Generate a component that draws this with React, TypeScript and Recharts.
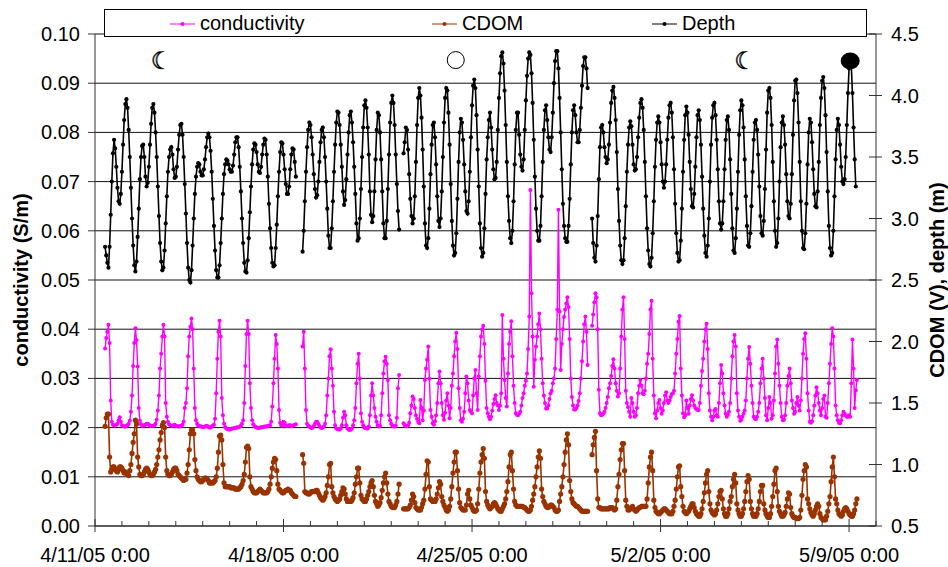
import { ComposedChart, Line, XAxis, YAxis, CartesianGrid, Legend, ReferenceDot } from 'recharts';

// hourly readings, hour 0 = 4/11/05 0:00. Logger had three short gaps, so four deployments.
const SEGMENT_STARTS = [9, 185, 275, 443];

const depth1 = [
  2.77,2.70,2.64,2.60,2.77,3.03,3.30,3.53,3.64,3.57,3.42,3.25,
  3.14,3.12,3.20,3.38,3.60,3.80,3.93,3.97,3.90,3.72,3.50,3.25,
  3.00,2.78,2.62,2.57,2.65,2.85,3.08,3.32,3.50,3.59,3.60,3.50,
  3.34,3.26,3.29,3.42,3.60,3.77,3.90,3.93,3.86,3.70,3.50,3.26,
  3.02,2.80,2.65,2.58,2.60,2.74,2.96,3.18,3.38,3.50,3.56,3.58,
  3.52,3.40,3.33,3.34,3.42,3.56,3.68,3.76,3.77,3.68,3.50,3.28,
  3.04,2.80,2.60,2.50,2.48,2.58,2.78,3.00,3.20,3.34,3.42,3.45,
  3.44,3.38,3.35,3.35,3.40,3.48,3.58,3.66,3.69,3.66,3.55,3.38,
  3.16,2.94,2.74,2.58,2.52,2.52,2.62,2.80,3.00,3.20,3.36,3.44,
  3.48,3.47,3.44,3.40,3.38,3.38,3.43,3.52,3.62,3.66,3.66,3.58,
  3.42,3.22,3.00,2.80,2.64,2.57,2.56,2.66,2.84,3.05,3.26,3.44,
  3.56,3.61,3.60,3.54,3.44,3.38,3.37,3.42,3.52,3.60,3.65,3.64,
  3.52,3.34,3.12,2.92,2.76,2.64,2.61,2.62,2.76,2.95,3.18,3.38,
  3.54,3.62,3.61,3.52,3.40,3.28,3.20,3.20,3.26,3.40,3.52,3.57,
  3.56,3.46,3.34,
];
const depth2 = [
  2.73,2.90,3.14,3.38,3.58,3.72,3.78,3.76,3.66,3.52,3.36,3.24,
  3.17,3.19,3.30,3.46,3.62,3.72,3.74,3.66,3.50,3.30,3.08,2.86,
  2.76,2.76,2.92,3.14,3.38,3.60,3.78,3.87,3.86,3.76,3.60,3.42,
  3.22,3.11,3.15,3.32,3.52,3.70,3.84,3.87,3.78,3.62,3.42,3.20,
  2.96,2.82,2.84,3.00,3.24,3.50,3.74,3.92,3.96,3.90,3.74,3.52,
  3.22,3.03,2.97,3.02,3.22,3.48,3.72,3.86,3.84,3.70,3.48,3.22,
  2.96,2.84,2.84,2.98,3.24,3.52,3.78,3.94,4.00,3.94,3.76,3.52,
  3.28,3.06,2.91,
];
const depth3 = [
  3.53,3.62,3.74,3.72,3.56,3.36,3.16,3.02,2.96,3.00,3.18,3.46,
  3.76,3.98,4.06,4.00,3.82,3.56,3.26,2.96,2.78,2.76,2.84,3.08,
  3.36,3.60,3.76,3.78,3.66,3.44,3.18,2.98,2.93,3.00,3.22,3.50,
  3.78,3.98,4.06,4.04,3.86,3.60,3.28,2.98,2.78,2.70,2.72,2.88,
  3.16,3.46,3.70,3.81,3.78,3.64,3.44,3.22,3.06,3.04,3.14,3.38,
  3.66,3.92,4.08,4.13,4.06,3.84,3.56,3.26,2.96,2.76,2.69,2.72,
  2.92,3.20,3.48,3.66,3.80,3.86,3.74,3.56,3.40,3.32,3.33,3.46,
  3.72,3.98,4.18,4.32,4.35,4.26,4.04,3.76,3.46,3.18,2.98,2.84,
  2.80,2.90,3.14,3.44,3.72,3.86,3.86,3.68,3.52,3.42,3.39,3.48,
  3.72,3.96,4.16,4.30,4.35,4.33,4.18,3.94,3.64,3.34,3.08,2.90,
  2.82,2.82,2.94,3.18,3.46,3.72,3.88,3.92,3.80,3.66,3.56,3.54,
  3.66,3.86,4.10,4.28,4.36,4.36,4.22,3.98,3.70,3.40,3.12,2.94,
  2.84,2.81,2.81,2.94,3.16,3.44,3.70,3.88,3.92,3.84,3.70,3.62,
  3.62,3.72,3.90,4.08,4.24,4.31,4.31,4.22,4.06,
];
const depth4 = [
  3.00,2.80,2.68,2.65,2.78,3.02,3.32,3.58,3.74,3.76,3.70,3.58,
  3.50,3.45,3.48,3.60,3.78,3.94,4.04,4.07,3.98,3.80,3.54,3.24,
  2.98,2.78,2.66,2.63,2.66,2.84,3.10,3.38,3.60,3.74,3.79,3.75,
  3.60,3.44,3.39,3.40,3.50,3.66,3.82,3.94,3.97,3.90,3.72,3.46,
  3.18,2.92,2.74,2.63,2.61,2.68,2.88,3.14,3.42,3.64,3.78,3.83,
  3.78,3.62,3.44,3.30,3.25,3.30,3.44,3.64,3.82,3.92,3.94,3.86,
  3.66,3.40,3.12,2.88,2.72,2.65,2.66,2.82,3.08,3.38,3.64,3.84,
  3.91,3.86,3.68,3.46,3.24,3.10,3.09,3.20,3.42,3.66,3.84,3.88,
  3.80,3.60,3.34,3.08,2.86,2.72,2.69,2.78,3.00,3.30,3.60,3.82,
  3.92,3.94,3.84,3.64,3.40,3.14,2.96,2.91,2.96,3.14,3.40,3.64,
  3.80,3.83,3.72,3.48,3.20,2.92,2.74,2.72,2.84,3.08,3.38,3.68,
  3.88,3.96,3.92,3.74,3.48,3.18,2.94,2.78,2.77,2.88,3.10,3.38,
  3.64,3.78,3.80,3.72,3.52,3.26,3.02,2.88,2.86,2.98,3.24,3.56,
  3.86,4.04,4.06,3.98,3.76,3.46,3.14,2.90,2.77,2.80,3.00,3.30,
  3.58,3.78,3.83,3.76,3.60,3.36,3.14,3.02,3.00,3.12,3.36,3.68,
  3.96,4.12,4.13,4.02,3.78,3.46,3.14,2.90,2.76,2.75,2.88,3.12,
  3.44,3.70,3.81,3.78,3.62,3.40,3.20,3.10,3.09,3.22,3.46,3.76,
  3.98,4.12,4.15,4.06,3.84,3.54,3.22,2.94,2.76,2.70,2.72,2.90,
  3.18,3.48,3.72,3.81,3.76,3.60,3.42,3.30,3.28,3.32,3.50,3.76,
  4.02,4.22,4.29,4.24,4.02,3.74,3.48,3.26,
];

// conductivity in units of 1e-4 S/m
const cond1 = [
  361,382,395,409,372,255,212,206,204,205,206,208,
  215,221,212,205,203,202,202,203,205,208,214,232,
  265,325,372,402,378,324,240,214,207,204,204,205,
  206,208,208,206,204,203,203,204,205,208,216,235,
  265,320,350,385,409,385,250,222,212,207,205,204,
  204,205,206,204,203,202,202,203,204,206,212,240,
  250,280,345,385,405,422,400,320,240,215,208,204,
  203,202,202,201,201,202,203,203,201,200,200,202,
  204,206,218,270,340,395,417,385,260,225,208,201,
  198,197,196,196,197,198,198,199,199,200,200,201,
  202,204,208,215,250,325,390,417,390,290,240,215,
  207,203,201,200,199,199,200,200,201,201,202,202,
  202,203,204,205,212,243,290,340,388,370,320,236,
  210,205,204,212,210,205,203,203,205,205,203,204,
  205,206,207,
];
const cond2 = [
  365,395,320,236,208,204,202,200,199,200,203,208,
  212,212,208,203,200,199,200,202,208,225,265,300,
  345,359,320,285,232,205,198,197,196,196,198,205,
  220,232,225,205,198,196,195,196,198,205,215,240,
  290,330,350,300,229,212,205,200,199,198,198,202,
  225,265,290,265,240,222,212,205,202,204,225,270,
  310,335,344,330,297,225,215,208,204,202,202,204,
  220,280,307,
];
const cond3 = [
  209,205,203,203,205,210,229,245,263,258,240,225,
  218,212,209,256,240,215,235,297,320,338,365,300,
  236,222,209,206,213,225,250,290,314,290,250,225,
  216,230,255,270,245,219,240,285,310,345,375,393,
  360,280,240,215,212,218,232,270,304,290,255,236,
  232,229,265,300,317,270,236,304,345,385,400,407,
  370,295,240,229,222,217,222,235,248,258,266,250,
  245,236,245,270,429,340,297,260,243,310,370,395,
  416,345,285,250,229,226,225,228,232,245,260,270,
  285,295,310,360,426,683,473,385,283,338,365,385,
  410,432,400,340,290,265,250,239,239,245,258,270,
  275,290,300,320,380,440,643,436,317,370,400,425,
  440,452,465,445,380,300,262,245,237,237,240,245,
  254,270,300,335,375,410,426,395,327,
];
const cond4 = [
  407,430,455,473,465,400,277,229,225,226,228,232,
  240,250,262,280,290,305,325,339,320,290,275,263,
  270,320,385,440,465,380,275,250,242,232,222,260,
  250,232,222,225,240,270,285,297,285,270,268,275,
  300,330,350,390,440,458,340,265,229,219,235,250,
  256,240,228,235,250,265,272,255,250,255,262,268,
  270,275,310,350,380,415,427,320,265,229,221,225,
  255,240,228,245,258,266,255,245,240,238,236,236,
  250,285,315,340,375,400,411,360,270,235,222,215,
  222,235,238,225,222,250,290,327,310,270,245,228,
  222,226,232,250,300,345,375,388,365,270,235,222,
  214,216,222,228,235,255,300,340,364,330,285,250,
  222,218,217,222,232,250,290,320,340,300,260,225,
  215,240,262,250,218,225,255,310,365,379,330,285,
  250,222,215,216,225,250,285,305,320,290,255,240,
  228,232,250,262,245,235,255,300,350,380,392,340,
  270,235,212,210,213,225,245,265,282,270,250,235,
  225,240,258,265,222,220,250,290,330,370,402,385,
  320,245,225,215,210,209,215,225,232,228,225,222,
  222,225,222,290,379,320,240,276,297,
];

const cdom1 = [
  1.31,1.38,1.41,1.41,1.06,.94,.96,.98,.98,.96,.95,.94,
  .96,.98,.98,.97,.95,.93,.94,.93,.92,.91,.95,1.00,
  1.09,1.18,1.25,1.36,1.33,1.06,.98,.92,.91,.91,.92,.94,
  .96,.97,.96,.94,.92,.91,.91,.92,.94,.96,1.00,1.06,
  1.12,1.20,1.26,1.32,1.34,1.30,1.06,.95,.92,.91,.91,.92,
  .94,.96,.97,.97,.95,.92,.91,.90,.89,.88,.87,.88,
  .88,.93,1.00,1.12,1.25,1.28,1.28,1.25,1.04,.95,.90,.88,
  .87,.86,.86,.87,.88,.89,.89,.88,.87,.85,.85,.85,
  .85,.86,.87,.90,.97,1.10,1.23,1.24,1.20,1.00,.85,.82,
  .82,.82,.82,.82,.81,.81,.81,.81,.80,.80,.80,.80,
  .81,.82,.84,.87,.92,1.02,1.14,1.15,1.13,.90,.82,.80,
  .78,.77,.77,.77,.78,.79,.80,.79,.78,.77,.77,.77,
  .77,.78,.80,.84,.90,.97,1.02,1.05,1.04,.95,.84,.80,
  .79,.78,.77,.77,.78,.79,.79,.80,.79,.79,.77,.76,
  .75,.74,.74,
];
const cdom2 = [
  1.08,1.01,.78,.77,.77,.76,.76,.77,.78,.78,.78,.78,
  .79,.79,.77,.75,.73,.72,.71,.72,.74,.77,.83,.90,
  1.00,1.01,.82,.77,.74,.72,.71,.70,.71,.72,.75,.78,
  .81,.80,.76,.72,.70,.70,.70,.70,.71,.73,.77,.84,
  .90,.97,.97,.85,.75,.72,.71,.70,.70,.72,.75,.78,
  .82,.85,.87,.82,.75,.70,.68,.66,.67,.69,.73,.79,
  .85,.90,.93,.85,.76,.70,.68,.66,.65,.65,.65,.67,
  .70,.76,.84,
];
const cdom3 = [
  .64,.64,.64,.64,.64,.65,.67,.71,.76,.74,.69,.65,
  .64,.63,.63,.63,.65,.68,.71,.80,.92,1.03,1.02,.82,
  .72,.71,.70,.70,.70,.72,.76,.81,.86,.84,.74,.70,
  .67,.65,.63,.62,.63,.66,.72,.82,.93,1.02,1.10,1.10,
  .95,.80,.69,.65,.64,.63,.63,.63,.67,.76,.79,.72,
  .67,.65,.63,.62,.62,.63,.68,.80,.93,1.02,1.08,1.13,
  1.05,.78,.70,.67,.65,.64,.65,.66,.68,.69,.68,.66,
  .64,.63,.62,.62,.64,.66,.68,.72,.78,.86,.98,1.08,
  1.10,.95,.80,.70,.67,.66,.66,.66,.66,.66,.66,.65,
  .65,.64,.63,.62,.62,.63,.66,.71,.76,.82,.90,.98,
  1.06,1.11,1.05,.80,.74,.70,.68,.66,.65,.65,.66,.67,
  .67,.66,.65,.63,.62,.62,.63,.70,.76,.82,.90,1.00,
  1.10,1.20,1.25,1.16,.87,.78,.72,.69,.68,.67,.66,.66,
  .65,.64,.63,.62,.62,.62,.62,.62,.62,
];
const cdom4 = [
  1.08,1.16,1.22,1.27,.95,.72,.65,.65,.64,.64,.64,.64,
  .64,.64,.64,.64,.65,.65,.65,.64,.63,.64,.71,.82,
  .92,1.04,1.12,1.17,1.17,.95,.71,.66,.63,.63,.64,.65,
  .66,.64,.63,.62,.63,.64,.65,.65,.66,.66,.66,.66,
  .66,.72,.85,.98,1.06,1.10,.95,.71,.65,.62,.61,.60,
  .60,.61,.62,.63,.64,.64,.63,.62,.61,.60,.60,.60,
  .62,.66,.71,.80,.90,.98,.99,.82,.74,.66,.62,.61,
  .60,.61,.62,.64,.66,.68,.68,.65,.62,.60,.59,.58,
  .58,.60,.64,.70,.77,.85,.92,.95,.78,.68,.63,.61,
  .60,.59,.60,.63,.68,.74,.78,.79,.72,.64,.60,.58,
  .58,.60,.64,.70,.74,.82,.88,.92,.85,.68,.63,.60,
  .58,.58,.60,.64,.70,.78,.86,.91,.88,.70,.64,.60,
  .58,.58,.58,.60,.64,.70,.78,.83,.83,.68,.63,.60,
  .58,.57,.57,.60,.66,.74,.84,.95,.97,.78,.66,.62,
  .60,.58,.58,.59,.61,.66,.72,.77,.76,.65,.60,.58,
  .57,.57,.56,.56,.56,.57,.63,.75,.88,.95,1.00,.98,
  .72,.68,.64,.61,.59,.58,.60,.63,.66,.68,.66,.60,
  .57,.56,.55,.55,.55,.58,.62,.68,.74,.86,.98,1.06,
  .90,.72,.68,.63,.60,.59,.58,.59,.62,.64,.65,.64,
  .62,.60,.59,.58,.58,.60,.63,.68,.72,
];

const dayTicks = [
  0,24,48,72,96,120,144,168,192,216,240,264,288,312,336,
  360,384,408,432,456,480,504,528,552,576,600,624,648,672,696,
];
const weekLabels: Record<number, string> = {
  0: '4/11/05 0:00',
  168: '4/18/05 0:00',
  336: '4/25/05 0:00',
  504: '5/2/05 0:00',
  672: '5/9/05 0:00',
};
const condTicks = [0, 0.01, 0.02, 0.03, 0.04, 0.05, 0.06, 0.07, 0.08, 0.09, 0.1];
const rightTicks = [0.5, 1, 1.5, 2, 2.5, 3, 3.5, 4, 4.5];

// moon phases, [hour, conductivity-axis height]
const quarterMoons = [[58, 0.0945], [578, 0.0945]];
const fullMoon = [321.5, 0.0947];
const newMoon = [673, 0.0945];

const FONT = '"Liberation Sans", Arial, sans-serif';
const AXIS_COLOR = '#333';
const COND_COLOR = '#ff00ff';
const CDOM_COLOR = '#993300';
const DEPTH_COLOR = '#000000';

type Row = { hour: number; cond?: number; cdom?: number; depth?: number };

const rows: Row[] = [];
for (let h = 0; h <= 696; h++) rows.push({ hour: h });

function fill(key: 'cond' | 'cdom' | 'depth', segments: number[][], scale = 1) {
  segments.forEach((vals, s) => {
    vals.forEach((v, i) => {
      rows[SEGMENT_STARTS[s] + i][key] = v * scale;
    });
  });
}
fill('cond', [cond1, cond2, cond3, cond4], 1e-4);
fill('cdom', [cdom1, cdom2, cdom3, cdom4]);
fill('depth', [depth1, depth2, depth3, depth4]);

function XTick({ x, y, payload }: any) {
  const label = weekLabels[payload.value];
  return (
    <g>
      {label ? (
        <line x1={x} x2={x} y1={y - 7} y2={y + 6} stroke={AXIS_COLOR} />
      ) : (
        <line x1={x} x2={x} y1={y - 5} y2={y} stroke={AXIS_COLOR} />
      )}
      {label && (
        <text x={x} y={y + 36} textAnchor="middle" fontFamily={FONT} fontSize={20} fill="#000">
          {label}
        </text>
      )}
    </g>
  );
}

function LeftTick({ x, y, payload }: any) {
  return (
    <g>
      <line x1={x - 7} x2={x} y1={y} y2={y} stroke={AXIS_COLOR} />
      <text x={x - 15} y={y + 7} textAnchor="end" fontFamily={FONT} fontSize={20} fill="#000">
        {payload.value.toFixed(2)}
      </text>
    </g>
  );
}

function RightTick({ x, y, payload }: any) {
  return (
    <g>
      <line x1={x - 7} x2={x + 6} y1={y} y2={y} stroke={AXIS_COLOR} />
      <text x={x + 15} y={y + 7} textAnchor="start" fontFamily={FONT} fontSize={20} fill="#000">
        {payload.value.toFixed(1)}
      </text>
    </g>
  );
}

function Crescent({ cx, cy }: any) {
  return (
    <text
      x={cx + 1.5}
      y={cy + 8}
      textAnchor="middle"
      fontFamily='"DejaVu Sans"'
      fontSize={24}
      fill="#fff"
      stroke="#000"
      strokeWidth={0.7}
    >
      ☾
    </text>
  );
}

function LegendKey({ color, label, left }: { color: string; label: string; left: number }) {
  return (
    <div style={{ position: 'absolute', left, top: 0, height: 27, display: 'flex', alignItems: 'center' }}>
      <svg width={25} height={8} style={{ marginRight: 5 }}>
        <line x1={0} x2={25} y1={4} y2={4} stroke={color} />
        <circle cx={12.5} cy={4} r={2} fill={color} />
      </svg>
      <span style={{ fontFamily: FONT, fontSize: 20, color: '#000' }}>{label}</span>
    </div>
  );
}

function LegendBox() {
  return (
    <div style={{ position: 'relative', width: 761, height: 26, background: '#fff', border: '1px solid #000' }}>
      <LegendKey color={COND_COLOR} label="conductivity" left={65} />
      <LegendKey color={CDOM_COLOR} label="CDOM" left={327} />
      <LegendKey color={DEPTH_COLOR} label="Depth" left={547} />
    </div>
  );
}

export default function App() {
  return (
    <div style={{ position: 'absolute', left: 0, top: 0, width: 948, height: 567, background: '#fff' }}>
      <ComposedChart width={948} height={567} data={rows} margin={{ top: 34, right: 0, bottom: 0, left: 0 }}>
        <CartesianGrid horizontal vertical={false} stroke="#111" yAxisId="left" />
        <XAxis
          dataKey="hour"
          type="number"
          domain={[0, 696]}
          ticks={dayTicks}
          interval={0}
          height={41}
          tickSize={0}
          tickMargin={0}
          tickLine={false}
          tick={XTick}
          stroke={AXIS_COLOR}
          allowDecimals={false}
        />
        <YAxis
          yAxisId="left"
          orientation="left"
          width={95}
          domain={[0, 0.1]}
          ticks={condTicks}
          interval={0}
          tickSize={0}
          tickMargin={0}
          tickLine={false}
          tick={LeftTick}
          stroke={AXIS_COLOR}
          label={{
            value: 'conductivity (S/m)',
            angle: -90,
            position: 'insideLeft',
            offset: 21,
            style: { textAnchor: 'middle', fontFamily: FONT, fontSize: 20, fontWeight: 'bold', fill: '#000' },
          }}
        />
        <YAxis
          yAxisId="right"
          orientation="right"
          width={72}
          domain={[0.5, 4.5]}
          ticks={rightTicks}
          interval={0}
          tickSize={0}
          tickMargin={0}
          tickLine={false}
          tick={RightTick}
          stroke={AXIS_COLOR}
          label={{
            value: 'CDOM (V), depth (m)',
            angle: -90,
            position: 'insideRight',
            offset: 11,
            style: { textAnchor: 'middle', fontFamily: FONT, fontSize: 20, fontWeight: 'bold', fill: '#000' },
          }}
        />
        <Line
          yAxisId="left"
          dataKey="cond"
          stroke={COND_COLOR}
          strokeWidth={1.4}
          dot={{ r: 2, fill: COND_COLOR, stroke: 'none' }}
          activeDot={false}
          connectNulls={false}
          isAnimationActive={false}
        />
        <Line
          yAxisId="right"
          dataKey="cdom"
          stroke={CDOM_COLOR}
          strokeWidth={1.6}
          dot={{ r: 2.6, fill: CDOM_COLOR, stroke: 'none' }}
          activeDot={false}
          connectNulls={false}
          isAnimationActive={false}
        />
        <Line
          yAxisId="right"
          dataKey="depth"
          stroke={DEPTH_COLOR}
          strokeWidth={1.6}
          dot={{ r: 2.1, fill: DEPTH_COLOR, stroke: 'none' }}
          activeDot={false}
          connectNulls={false}
          isAnimationActive={false}
        />
        {quarterMoons.map(([h, v]) => (
          <ReferenceDot key={h} yAxisId="left" x={h} y={v} shape={Crescent} />
        ))}
        <ReferenceDot yAxisId="left" x={fullMoon[0]} y={fullMoon[1]} r={8.5} fill="#fff" stroke="#000" />
        <ReferenceDot
          yAxisId="left"
          x={newMoon[0]}
          y={newMoon[1]}
          shape={({ cx, cy }: any) => <ellipse cx={cx} cy={cy} rx={9.5} ry={8.5} fill="#000" />}
        />
        <Legend
          layout="horizontal"
          verticalAlign="middle"
          align="center"
          content={LegendBox}
          wrapperStyle={{ left: 104, top: 9, width: 763, height: 28 }}
        />
      </ComposedChart>
    </div>
  );
}
